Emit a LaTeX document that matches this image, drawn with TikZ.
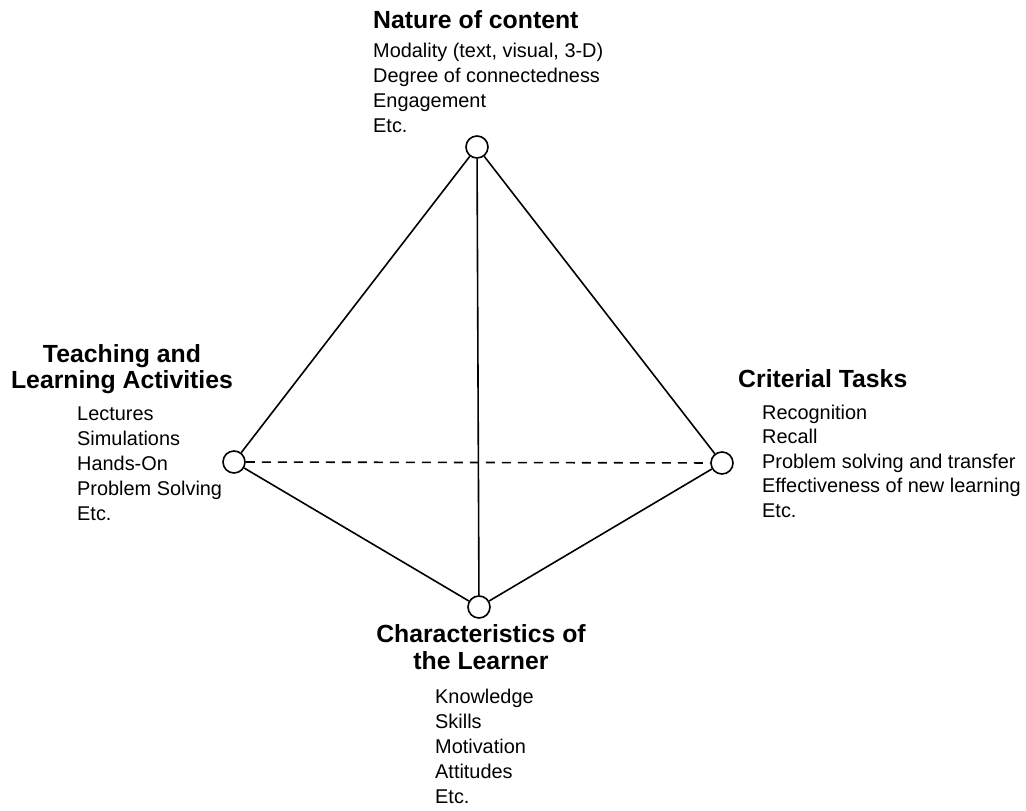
\documentclass[tikz,border=0pt]{standalone}
\usepackage{fontspec}
\setmainfont{Liberation Sans}
\usepackage{tikz}

\tikzset{
  vertex/.style={circle, draw, line width=1.6pt, minimum size=22pt, inner sep=0pt, fill=white},
  edge/.style={line width=1.6pt},
  headtext/.style={inner sep=0pt, font=\fontsize{24.8}{26}\selectfont\bfseries},
  itemtext/.style={inner sep=0pt, anchor=base west, font=\fontsize{19.9}{25}\selectfont}
}

\begin{document}
\begin{tikzpicture}[x=1pt, y=-1pt]
\useasboundingbox (0,0) rectangle (1026,811);

\node [vertex] (top) at (477,147) {};
\node [vertex] (left) at (234,462) {};
\node [vertex] (right) at (722,463) {};
\node [vertex] (bottom) at (479,607) {};

\draw [edge] (top) -- (left);
\draw [edge] (top) -- (right);
\draw [edge] (top) -- (bottom);
\draw [edge] (left) -- (bottom);
\draw [edge] (right) -- (bottom);
\draw [edge, dash pattern=on 9pt off 7pt] (left) -- (right);

% nature of content
\node [headtext, anchor=base west] (toptitle) at (373,28) {Nature of content};
\foreach [count=\i] \t in {{Modality (text, visual, 3-D)}, Degree of connectedness, Engagement, Etc.} {
\node [itemtext] (topitem-\i) at (373, 32 + \i * 25) {\t};
}

% teaching and learning activities
\node [headtext, anchor=base] (lefttitle-1) at (122,362) {Teaching and};
\node [headtext, anchor=base] (lefttitle-2) at (122,388) {Learning Activities};
\foreach [count=\i] \t in {Lectures, Simulations, Hands-On, Problem Solving, Etc.} {
\node [itemtext] (leftitem-\i) at (77, 395 + \i * 25) {\t};
}

% criterial tasks
\node [headtext, anchor=base west] (righttitle) at (738,387) {Criterial Tasks};
\foreach [count=\i] \t in {Recognition, Recall, Problem solving and transfer, Effectiveness of new learning, Etc.} {
\node [itemtext] (rightitem-\i) at (762, 394.5 + \i * 24.5) {\t};
}

% characteristics of the learner
\node [headtext, anchor=base] (bottomtitle-1) at (481,642) {Characteristics of};
\node [headtext, anchor=base] (bottomtitle-2) at (481,669) {the Learner};
\foreach [count=\i] \t in {Knowledge, Skills, Motivation, Attitudes, Etc.} {
\node [itemtext] (bottomitem-\i) at (435, 678 + \i * 25) {\t};
}

\end{tikzpicture}
\end{document}
